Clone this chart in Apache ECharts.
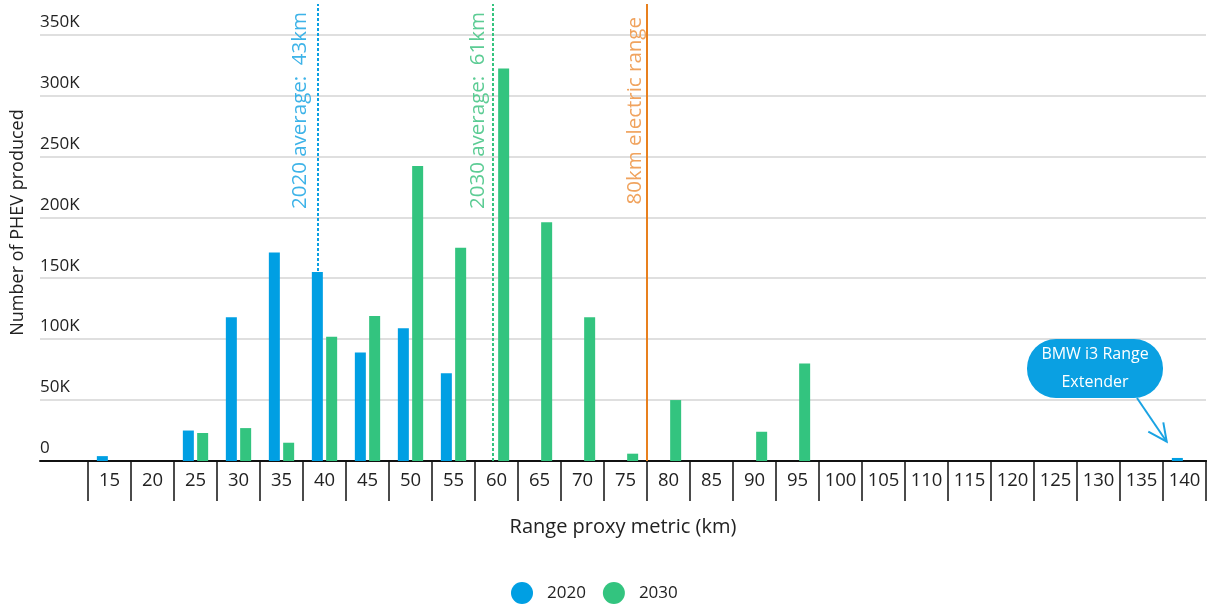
<!DOCTYPE html>
<html>
<head>
<meta charset="utf-8">
<script src="https://cdn.jsdelivr.net/npm/echarts@6/dist/echarts.min.js"></script>
<style>
html,body{margin:0;padding:0;background:#fff;}
#chart{width:1210px;height:607px;}
</style>
</head>
<body>
<div id="chart"></div>
<script>
// ---- data ----
const categories = ['15','20','25','30','35','40','45','50','55','60','65','70','75','80','85','90','95','100','105','110','115','120','125','130','135','140'];
const values2020 = [4000, null, 25000, 118000, 171000, 155000, 89000, 109000, 72000, null, null, null, null, null, null, null, null, null, null, null, null, null, null, null, null, 2500];
const values2030 = [null, null, 23000, 27000, 15000, 102000, 119000, 242000, 175000, 322000, 196000, 118000, 6000, 50000, null, 24000, 80000, null, null, null, null, null, null, null, null, null];
const yTicks = [0, 50000, 100000, 150000, 200000, 250000, 300000, 350000];
const refLines = [
  {label: '2020 average:  43km', km: 39.2, color: '#0a9fe2', textColor: '#3db3e8', type: [3, 2]},
  {label: '2030 average:  61km', km: 59.6, color: '#34c47e', textColor: '#5ccc94', type: [3, 2]},
  {label: '80km electric range', km: 77.5, color: '#e8801e', textColor: '#f0a35e', type: 'solid'}
];
const calloutText = 'BMW i3 Range\nExtender';
const calloutCategory = '140';

const FONT = '"Open Sans"';
const Y_MAX = 375000;
const BLUE = '#009fe3';
const GREEN = '#33c47f';

const chart = echarts.init(document.getElementById('chart'), null, {renderer: 'canvas'});

const lineSeries = refLines.map((r, i) => ({
  type: 'line',
  name: 'ref' + i,
  xAxisIndex: 2,
  yAxisIndex: 1,
  data: [],
  silent: true,
  markLine: {
    silent: true,
    z: 1,
    symbol: ['none', 'none'],
    animation: false,
    lineStyle: {color: r.color, width: 2, type: r.type},
    label: {
      show: true,
      position: 'insideEndTop',
      formatter: r.label,
      color: r.textColor,
      fontFamily: FONT,
      fontSize: 20.5,
      distance: i === 2 ? [13, 1] : (i === 0 ? [8, 7] : [8, 4])
    },
    data: [[{coord: [r.km, 0]}, {coord: [r.km, Y_MAX]}]]
  }
}));

const option = {
  animation: false,
  backgroundColor: '#fff',
  textStyle: {fontFamily: FONT},
  grid: [
    {left: 40, right: 4, top: 4, bottom: 146, outerBoundsMode: 'none'},
    {left: 88, right: 4, top: 4, bottom: 146, outerBoundsMode: 'none'}
  ],
  legend: {
    data: ['2020', '2030'],
    icon: 'circle',
    itemWidth: 22,
    itemHeight: 22,
    itemGap: 17,
    left: 506,
    top: 577,
    textStyle: {fontFamily: FONT, fontSize: 17, color: '#222', padding: [0, 0, 0, 9]}
  },
  xAxis: [
    {
      type: 'value', gridIndex: 0, min: 0, max: 1,
      name: 'Range proxy metric (km)', nameLocation: 'middle', nameGap: 56,
      nameTextStyle: {fontFamily: FONT, fontSize: 20, color: '#222'},
      axisLine: {show: true, onZero: false, lineStyle: {color: '#111', width: 2}},
      axisTick: {show: false}, axisLabel: {show: false}, splitLine: {show: false}
    },
    {
      type: 'category', gridIndex: 1, data: categories,
      axisLine: {show: true, lineStyle: {color: '#111', width: 2}},
      axisTick: {show: true, length: 40, lineStyle: {color: '#111', width: 1.5}},
      axisLabel: {fontFamily: FONT, fontSize: 18.5, color: '#222', margin: 10, interval: 0},
      splitLine: {show: false}
    },
    {
      type: 'value', gridIndex: 1, min: 12.5, max: 142.5, show: false
    }
  ],
  yAxis: [
    {
      type: 'value', gridIndex: 0, min: 0, max: Y_MAX, interval: 50000,
      name: 'Number of PHEV produced', nameLocation: 'middle', nameRotate: 90, nameGap: 13,
      nameTextStyle: {fontFamily: FONT, fontSize: 18, color: '#222', padding: [0, 0, 0, 20]},
      axisLine: {show: false}, axisTick: {show: false},
      axisLabel: {
        inside: true, margin: 0, verticalAlign: 'bottom', align: 'left',
        fontFamily: FONT, fontSize: 17, color: '#222', padding: [0, 0, 4, 0],
        showMaxLabel: false,
        formatter: v => yTicks.indexOf(v) < 0 ? '' : (v === 0 ? '0' : (v / 1000) + 'K')
      },
      splitLine: {show: true, showMaxLine: false, showMinLine: false, lineStyle: {color: '#d4d4d4', width: 1.5}}
    },
    {
      type: 'value', gridIndex: 1, min: 0, max: Y_MAX, interval: 50000, show: false,
      splitLine: {show: false}
    }
  ],
  series: [
    {
      name: '2020', type: 'bar', xAxisIndex: 1, yAxisIndex: 1, z: 3,
      data: values2020, barWidth: 11, barGap: '30%',
      itemStyle: {color: BLUE}
    },
    {
      name: '2030', type: 'bar', xAxisIndex: 1, yAxisIndex: 1, z: 3,
      data: values2030, barWidth: 11, barGap: '30%',
      itemStyle: {color: GREEN}
    }
  ].concat(lineSeries)
};

chart.setOption(option);

// Callout annotation anchored to the 140 category on the axis
const anchor = chart.convertToPixel({xAxisIndex: 1, yAxisIndex: 1}, [calloutCategory, 0]);
const cx = anchor[0], y0 = anchor[1];
chart.setOption({
  graphic: [
    {
      type: 'group',
      silent: true,
      children: [
        {
          type: 'polyline',
          shape: {points: [[cx - 47.5, y0 - 63], [cx - 17.8, y0 - 19.3]]},
          style: {stroke: '#1aa3e3', lineWidth: 2, fill: null}
        },
        {
          type: 'polyline',
          shape: {points: [[cx - 36.2, y0 - 29.3], [cx - 17.8, y0 - 19.3], [cx - 21.2, y0 - 38.7]]},
          style: {stroke: '#1aa3e3', lineWidth: 2, fill: null}
        },
        {
          type: 'rect',
          shape: {x: cx - 157.5, y: y0 - 122, width: 136, height: 59, r: 29},
          style: {fill: '#0aa0e2'}
        },
        {
          type: 'text',
          x: cx - 89.5, y: y0 - 92.5,
          style: {
            text: calloutText, fill: '#ffffff', font: '16px ' + FONT,
            align: 'center', verticalAlign: 'middle', lineHeight: 28
          }
        }
      ]
    }
  ]
});
</script>
</body>
</html>
